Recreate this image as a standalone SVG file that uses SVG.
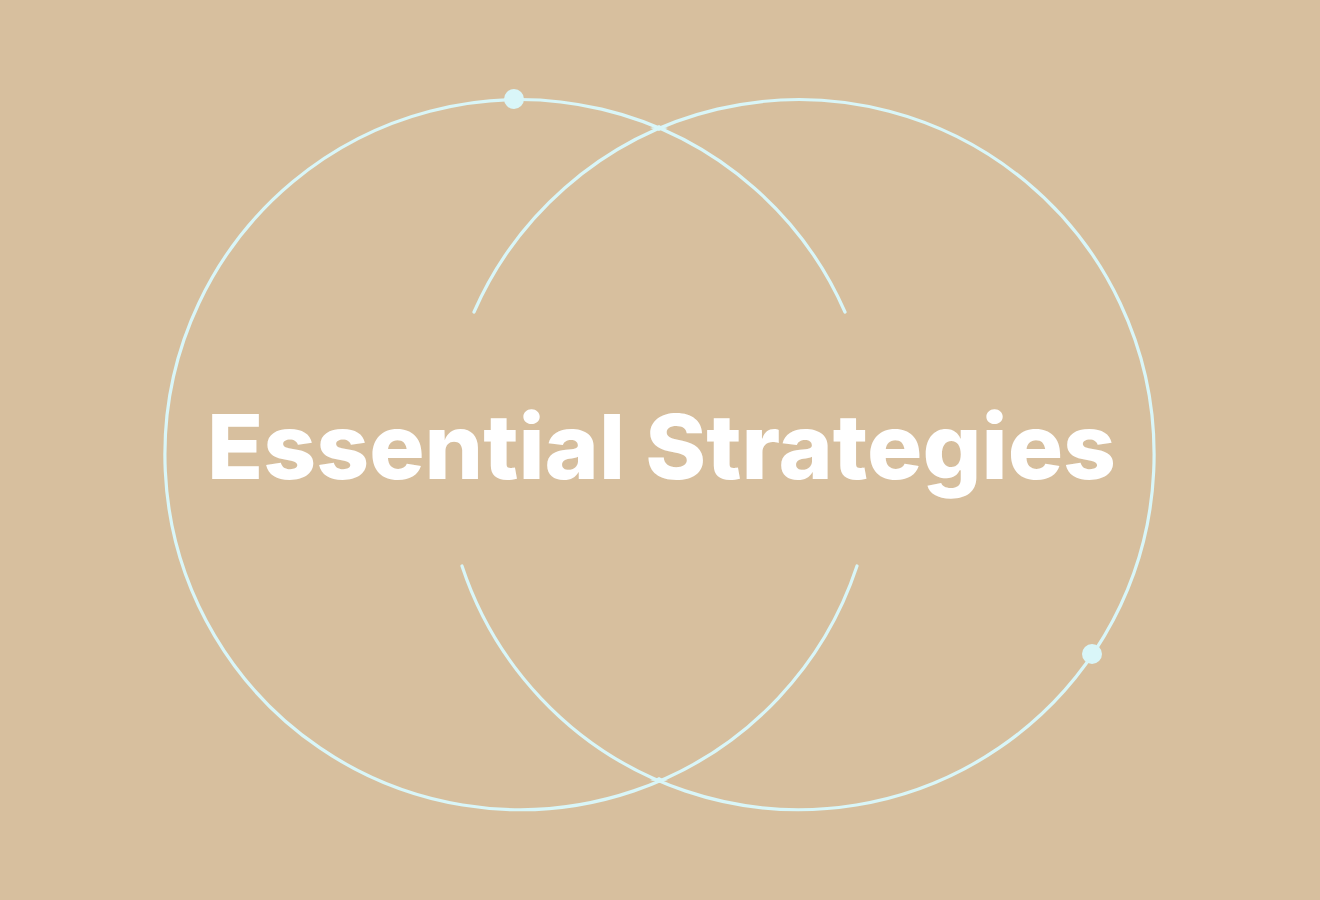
<svg xmlns="http://www.w3.org/2000/svg" width="1320" height="900" viewBox="0 0 1320 900">
  <style>
    .ring { fill: none; stroke: #d9f6f8; stroke-width: 3.2; stroke-linecap: round; }
    .dot { fill: #d9f6f8; }
    .title { font-family: Inter, "Noto Sans", "DejaVu Sans", sans-serif; font-weight: 800; font-size: 90px; fill: #ffffff; }
  </style>
  <rect x="0" y="0" width="1320" height="900" fill="#d7bf9e"/>
  <g id="connectors">
    <path class="ring" d="M 845 312 A 355 355 0 1 0 857 566"/>
    <path class="ring" d="M 474 312 A 355 355 0 1 1 462 566"/>
  </g>
  <g id="junction-top">
    <path class="dot" d="M 650 127 Q 659 128 668 127 Q 662 129 659 131 Q 656 129 650 127 Z"/>
    <path class="dot" d="M 650 129 Q 659 128 668 129 Q 662 127 659 125 Q 656 127 650 129 Z"/>
  </g>
  <g id="junction-bottom">
    <path class="dot" d="M 650 779 Q 659 780 668 779 Q 662 781 659 783 Q 656 781 650 779 Z"/>
    <path class="dot" d="M 650 781 Q 659 780 668 781 Q 662 779 659 777 Q 656 779 650 781 Z"/>
  </g>
  <g id="node-dot-top">
    <circle class="dot" cx="514" cy="99" r="10"/>
  </g>
  <g id="node-dot-right">
    <circle class="dot" cx="1092" cy="654" r="10"/>
  </g>
  <g id="node-title">
    <text class="title" x="207" y="479" textLength="909" lengthAdjust="spacingAndGlyphs">Essential Strategies</text>
  </g>
</svg>
